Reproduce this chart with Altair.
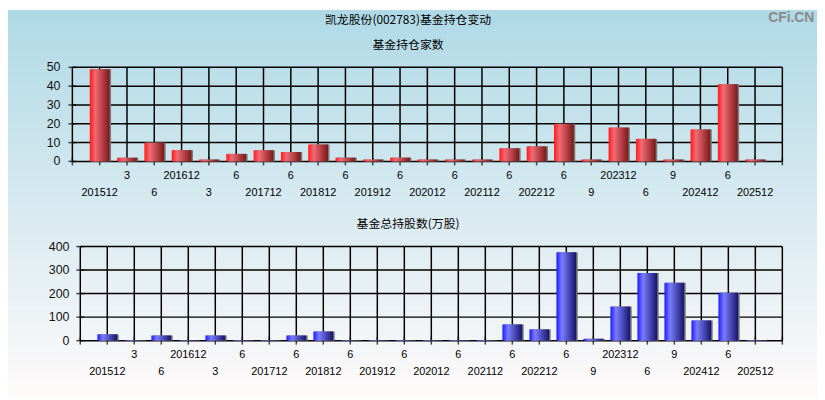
import altair as alt
import pandas as pd

# ---------------- data ----------------
periods = ["201512", "201603", "201606", "201612", "201703", "201706", "201712",
           "201806", "201812", "201906", "201912", "202006", "202012", "202106",
           "202112", "202206", "202212", "202306", "202309", "202312", "202406",
           "202409", "202412", "202506", "202512"]
tick_labels = ["201512", "3", "6", "201612", "3", "6", "201712", "6", "201812", "6",
               "201912", "6", "202012", "6", "202112", "6", "202212", "6", "9",
               "202312", "6", "9", "202412", "6", "202512"]
fund_counts = [49, 2, 10, 6, 1, 4, 6, 5, 9, 2, 1, 2, 1, 1, 1, 7, 8, 20, 1, 18, 12, 1, 17, 41, 1]
fund_shares = [27, 2, 22, 2, 22, 2, 2, 22, 39, 2, 2, 2, 2, 2, 2, 69, 48, 376, 8, 145, 288,
               246, 86, 204, 2]
count_ticks = [0, 10, 20, 30, 40, 50]
share_ticks = [0, 100, 200, 300, 400]

main_title = "凯龙股份(002783)基金持仓变动"
title_top = "基金持仓家数"
title_bottom = "基金总持股数(万股)"
watermark = "CFi.CN"

n = len(periods)
df = pd.DataFrame({"period": periods, "pos": list(range(1, n + 1)),
                   "count": fund_counts, "shares": fund_shares,
                   "label": tick_labels})
xgrid = pd.DataFrame({"g": list(range(0, n + 2))})

W, H = 817, 392

# ---------------- style helpers ----------------
def mix(c1, c2, t):
    return "#" + "".join(f"{round(a + (b - a) * t):02x}" for a, b in zip(c1, c2))

TOP_C = (173, 216, 230)
BOT_C = (255, 250, 250)

bg_grad = alt.LinearGradient(
    gradient="linear", x1=0, y1=0, x2=0, y2=1,
    stops=[alt.GradientStop(color=mix(TOP_C, BOT_C, 0.02), offset=0),
           alt.GradientStop(color=mix(TOP_C, BOT_C, 1.0), offset=1)])

def hgrad(c_left, c_mid, c_right):
    return alt.LinearGradient(gradient="linear", x1=0, y1=0, x2=1, y2=0,
                              stops=[alt.GradientStop(color=c_left, offset=0),
                                     alt.GradientStop(color=c_mid, offset=0.28),
                                     alt.GradientStop(color=c_right, offset=1)])

red_grad = hgrad("#ff1a1a", "#f26a74", "#7a1818")
blue_grad = hgrad("#1a1aff", "#7c7cff", "#14146a")

LBL_FONT = "Liberation Sans"
CJK_FONT = "Noto Sans CJK SC"


def panel(field, ticks, ymax, x_left, y_top, y_bottom, bar_grad, sub, sub_y, ylabel_dx):
    xs = alt.Scale(domain=[0, n + 1], range=[x_left, 787], nice=False, zero=False)
    ys = alt.Scale(domain=[0, ymax], range=[y_bottom, y_top], nice=False, zero=True)

    def X(f):
        return alt.X(f, scale=xs, axis=None)

    def Y(f):
        return alt.Y(f, scale=ys, axis=None)

    x0 = alt.XDatum(0, type="quantitative", scale=xs, axis=None)
    x_end = alt.X2Datum(n + 1)
    y0 = alt.YDatum(0, type="quantitative", scale=ys, axis=None)
    y_end = alt.Y2Datum(ymax)

    tick_df = pd.DataFrame({"v": ticks})

    vrules = alt.Chart(xgrid).mark_rule(color="black", strokeWidth=1.5).encode(
        x=X("g:Q"), y=y0, y2=y_end)
    hrules = alt.Chart(tick_df).mark_rule(color="black", strokeWidth=1.5).encode(
        y=Y("v:Q"), x=x0, x2=x_end)
    xticks = alt.Chart(xgrid).mark_tick(color="black", thickness=1.5, size=8,
                                        orient="vertical").encode(x=X("g:Q"), y=y0)
    yticks = alt.Chart(tick_df).mark_tick(color="black", thickness=1.5, size=8,
                                          orient="horizontal").encode(y=Y("v:Q"), x=x0)
    shadow = alt.Chart(df).mark_bar(color="#7a7a7a", size=20, xOffset=1.5).encode(
        x=X("pos:Q"), y=Y(f"{field}:Q"))
    bars = alt.Chart(df).mark_bar(color=bar_grad, size=20).encode(
        x=X("pos:Q"), y=Y(f"{field}:Q"))
    lab_row1 = alt.Chart(df).transform_filter("datum.pos % 2 == 0").mark_text(
        font=LBL_FONT, fontSize=11, color="black", baseline="middle", align="center",
        dy=15).encode(x=X("pos:Q"), y=y0, text="label:N")
    lab_row2 = alt.Chart(df).transform_filter("datum.pos % 2 == 1").mark_text(
        font=LBL_FONT, fontSize=11, color="black", baseline="middle", align="center",
        dy=31.5).encode(x=X("pos:Q"), y=y0, text="label:N")
    ylabels = alt.Chart(tick_df).mark_text(
        font=LBL_FONT, fontSize=12.5, color="#111", baseline="middle", align="right",
        dx=ylabel_dx).encode(y=Y("v:Q"), x=x0, text="v:Q")
    subt = alt.Chart(pd.DataFrame({"t": [sub]})).mark_text(
        font=CJK_FONT, fontSize=12, color="black", baseline="middle", align="center").encode(
        text="t:N", x=alt.value(404), y=alt.value(sub_y))
    return alt.layer(vrules, hrules, xticks, yticks, shadow, bars,
                     lab_row1, lab_row2, ylabels, subt)


one = pd.DataFrame({"t": [0]})
bg = alt.Chart(one).mark_rect(color=bg_grad).encode(
    x=alt.value(0), x2=alt.value(W), y=alt.value(0), y2=alt.value(H))

mt = alt.Chart(pd.DataFrame({"t": [main_title]})).mark_text(
    font=CJK_FONT, fontSize=12, color="black", baseline="middle", align="center").encode(
    text="t:N", x=alt.value(404), y=alt.value(10))
wm = alt.Chart(pd.DataFrame({"t": [watermark]})).mark_text(
    font=LBL_FONT, fontSize=14, fontWeight="bold", color="#8a8a8a",
    baseline="top", align="center").encode(
    text="t:N", x=alt.value(791), y=alt.value(1))

p1 = panel("count", count_ticks, 50, 60, 58, 153, red_grad, title_top, 35, -12)
p2 = panel("shares", share_ticks, 400, 68, 239, 334, blue_grad, title_bottom, 216, -11)

chart = alt.layer(bg, p1, p2, mt, wm).resolve_scale(
    x="independent", y="independent"
).properties(
    width=W, height=H, padding=0,
    autosize=alt.AutoSizeParams(type="none")
).configure_view(stroke=None)

chart.save("out.html", embed_options={"renderer": "svg", "actions": False})
